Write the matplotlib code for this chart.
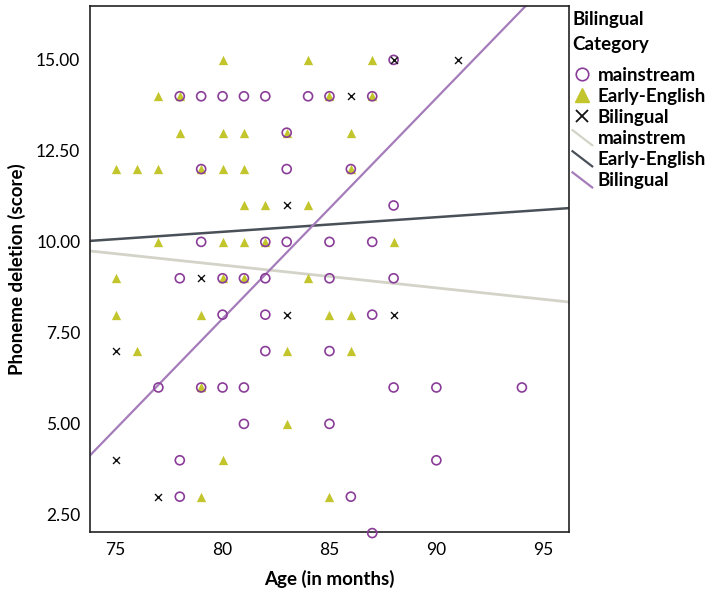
import matplotlib
matplotlib.use('Agg')
import matplotlib.pyplot as plt
import numpy as np
from matplotlib.lines import Line2D
from matplotlib.legend_handler import HandlerBase

plt.rcParams['font.family'] = ['Lato', 'DejaVu Sans']

# age (months), score
main_x = [88, 78, 79, 80, 81, 82, 84, 85, 87, 83, 79, 83, 86, 88,
          79, 82, 83, 85, 87, 78, 80, 81, 82, 85, 88, 80, 82, 87, 82, 85,
          77, 79, 80, 81, 88, 90, 94, 81, 85, 78, 90, 78, 86, 87]
main_y = [15, 14, 14, 14, 14, 14, 14, 14, 14, 13, 12, 12, 12, 11,
          10, 10, 10, 10, 10, 9, 9, 9, 9, 9, 9, 8, 8, 8, 7, 7,
          6, 6, 6, 6, 6, 6, 6, 5, 5, 4, 4, 3, 3, 2]

early_x = [80, 84, 87, 77, 78, 85, 87, 78, 80, 81, 83, 86,
           75, 76, 77, 79, 80, 81, 86, 81, 82, 84, 77, 80, 81, 82, 88,
           75, 80, 81, 84, 75, 79, 85, 86, 76, 83, 86, 79, 83, 80, 79, 85]
early_y = [15, 15, 15, 14, 14, 14, 14, 13, 13, 13, 13, 13,
           12, 12, 12, 12, 12, 12, 12, 11, 11, 11, 10, 10, 10, 10, 10,
           9, 9, 9, 9, 8, 8, 8, 8, 7, 7, 7, 6, 5, 4, 3, 3]

bil_x = [88, 91, 86, 83, 79, 83, 88, 75, 75, 77]
bil_y = [15, 15, 14, 11, 9, 8, 8, 7, 4, 3]

# fit lines (intercept, slope)
fit_names = ['mainstrem', 'Early-English', 'Bilingual']
fit_intercept = [14.37, 7.06, -40.59]
fit_slope = [-0.0626, 0.0402, 0.606]

c_main = '#8a3d98'
c_early = '#c3c52c'
c_bil = '#111111'
line_cols = ['#d3d3c8', '#4a5058', '#a57cba']
line_w = [2.0, 1.8, 1.6]


class SlantLine(HandlerBase):
    # legend key drawn as a short line going down to the right
    def create_artists(self, legend, orig, xd, yd, w, h, fs, trans):
        ln = Line2D([-xd, -xd + w], [-yd + h * 1.05, -yd - h * 0.1],
                    color=orig.get_color(), lw=orig.get_linewidth(),
                    transform=trans)
        return [ln]


fig = plt.figure(figsize=(7.21, 5.94), dpi=100)
ax = fig.add_axes([0.1248, 0.1044, 0.6643, 0.8855])

xlo, xhi = 73.8, 96.2
ax.set_xlim(xlo, xhi)
ax.set_ylim(2.03, 16.48)

xx = np.array([xlo, xhi])
for a, b, col, lw in zip(fit_intercept, fit_slope, line_cols, line_w):
    ax.plot(xx, a + b * xx, color=col, lw=lw, zorder=1)

ax.scatter(early_x, early_y, marker='^', s=45, color=c_early,
           linewidths=0, zorder=2, clip_on=False)
ax.scatter(main_x, main_y, marker='o', s=42, facecolors='none',
           edgecolors=c_main, linewidths=1.2, zorder=3, clip_on=False)
ax.scatter(bil_x, bil_y, marker='x', s=25, color=c_bil,
           linewidths=1.0, zorder=4, clip_on=False)

ax.set_xticks([75, 80, 85, 90, 95])
yt = [2.5, 5, 7.5, 10, 12.5, 15]
ax.set_yticks(yt)
ax.set_yticklabels(['%.2f' % v for v in yt])
ax.tick_params(length=0, labelsize=12.5, pad=7)
for s in ax.spines.values():
    s.set_linewidth(1.2)
    s.set_color('#222222')

ax.set_xlabel('Age (in months)', fontsize=13.5, fontweight='bold', labelpad=9)
ax.set_ylabel('Phoneme deletion (score)', fontsize=13.5, fontweight='bold', labelpad=7)

line_handles = [Line2D([], [], color=c, lw=1.6) for c in line_cols]
handles = [
    Line2D([], [], marker='o', ls='none', mfc='none', mec=c_main, ms=9, mew=1.2),
    Line2D([], [], marker='^', ls='none', color=c_early, ms=10),
    Line2D([], [], marker='x', ls='none', color=c_bil, ms=9, mew=1.3),
] + line_handles
labels = ['mainstream', 'Early-English', 'Bilingual'] + fit_names
leg = ax.legend(handles, labels, title='Bilingual\nCategory', loc='upper left',
                bbox_to_anchor=(0.984, 1.012), frameon=False, handlelength=1.05,
                handletextpad=0.3, labelspacing=0.22, borderaxespad=0.2,
                prop={'weight': 'bold', 'size': 13.5},
                title_fontproperties={'weight': 'bold', 'size': 13.5},
                handler_map={h: SlantLine() for h in line_handles})
leg._legend_box.align = 'left'
leg._legend_box.sep = 10
leg.get_title().set_linespacing(1.55)

fig.savefig('out.png', dpi=100)
